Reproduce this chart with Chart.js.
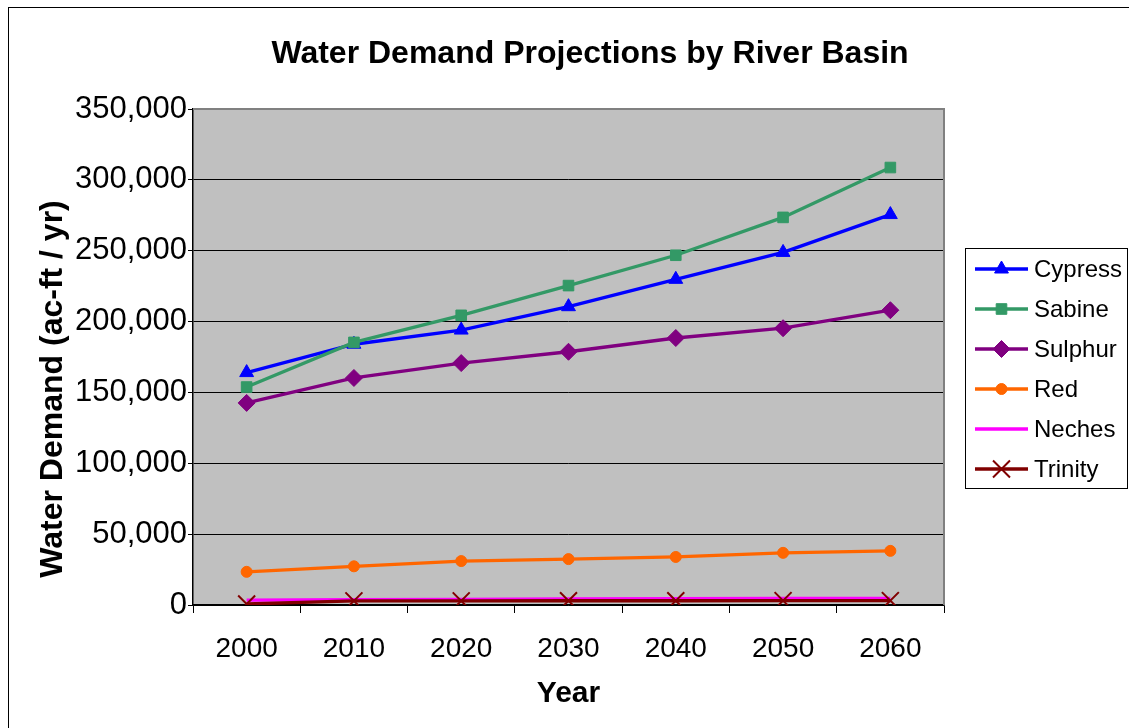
<!DOCTYPE html>
<html>
<head>
<meta charset="utf-8">
<title>Water Demand Projections by River Basin</title>
<script src="https://cdn.jsdelivr.net/npm/chart.js@4/dist/chart.umd.min.js"></script>
<style>
  html, body { margin: 0; padding: 0; background: #fff; }
  canvas { display: block; }
</style>
</head>
<body>
<canvas id="chart" width="1129" height="728"></canvas>
<script>
// Projected water demand (acre-feet per year) by river basin
const years   = ['2000', '2010', '2020', '2030', '2040', '2050', '2060'];
const cypress = [164000, 184000, 194000, 210500, 229800, 248800, 275500];
const sabine  = [153800, 185300, 204400, 225400, 246800, 273500, 308700];
const sulphur = [142600, 160200, 170700, 178700, 188400, 195300, 208000];
const red     = [23400, 27300, 31000, 32400, 33900, 36800, 38200];
const neches  = [3400, 3700, 4000, 4300, 4500, 4600, 4700];
const trinity = [700, 2900, 2900, 3000, 3000, 3100, 3100];

const FONT = '"Liberation Sans", Arial, Helvetica, sans-serif';

const series = [
  { label: 'Cypress', data: cypress, color: '#0000FF', style: 'triangle', radius: 8,   bw: 1 },
  { label: 'Sabine',  data: sabine,  color: '#339966', style: 'rect',     radius: 7.5, bw: 1 },
  { label: 'Sulphur', data: sulphur, color: '#800080', style: 'rectRot',  radius: 8.5, bw: 1 },
  { label: 'Red',     data: red,     color: '#FF6600', style: 'circle',   radius: 5.5, bw: 1 },
  { label: 'Neches',  data: neches,  color: '#FF00FF', style: false,      radius: 0,   bw: 0 },
  { label: 'Trinity', data: trinity, color: '#800000', style: 'crossRot', radius: 12,  bw: 2 }
];

const datasets = series.map((s, i) => ({
  label: s.label,
  data: s.data,
  borderColor: s.color,
  backgroundColor: s.color,
  borderWidth: 3.3,
  tension: 0,
  pointStyle: s.style,
  pointRadius: s.radius,
  pointBorderWidth: s.bw,
  pointBackgroundColor: s.color,
  pointBorderColor: s.color,
  order: series.length - 1 - i   // later series painted on top
}));

// Plot background, outer frame and gray top/right plot border
const frame = {
  id: 'frame',
  beforeDraw(chart) {
    const { ctx, chartArea: a } = chart;
    ctx.save();
    ctx.fillStyle = '#fff';
    ctx.fillRect(0, 0, chart.width, chart.height);
    ctx.strokeStyle = '#000';
    ctx.lineWidth = 1;
    ctx.strokeRect(8.5, 7.5, chart.width + 20, chart.height + 20);
    ctx.fillStyle = '#C0C0C0';
    ctx.fillRect(a.left, a.top, a.right - a.left, a.bottom - a.top);
    ctx.restore();
  },
  beforeDatasetsDraw(chart) {
    const { ctx, chartArea: a } = chart;
    ctx.save();
    ctx.strokeStyle = '#808080';
    ctx.lineWidth = 2;
    ctx.beginPath();
    ctx.moveTo(a.left, a.top);
    ctx.lineTo(a.right, a.top);
    ctx.lineTo(a.right, a.bottom);
    ctx.stroke();
    ctx.restore();
  }
};

function marker(ctx, style, radius, bw, x, y) {
  if (!style || radius <= 0) return;
  Chart.helpers.drawPoint(ctx, { pointStyle: style, radius: radius, rotation: 0, borderWidth: bw }, x, y);
}

// Chart title, vertical axis title and boxed legend
const annotations = {
  id: 'annotations',
  afterDraw(chart) {
    const { ctx } = chart;
    ctx.save();
    ctx.fillStyle = '#000';
    ctx.textAlign = 'center';
    ctx.textBaseline = 'middle';
    ctx.font = 'bold 32px ' + FONT;
    ctx.fillText('Water Demand Projections by River Basin', 590, 54);

    ctx.save();
    ctx.translate(53, 389);
    ctx.rotate(-Math.PI / 2);
    ctx.font = 'bold 32px ' + FONT;
    ctx.fillText('Water Demand (ac-ft / yr)', 0, 0);
    ctx.restore();

    // legend box
    const bx = 965, by = 248, bw = 162, bh = 240;
    ctx.fillStyle = '#fff';
    ctx.fillRect(bx, by, bw, bh);
    ctx.strokeStyle = '#000';
    ctx.lineWidth = 1;
    ctx.strokeRect(bx + 0.5, by + 0.5, bw, bh);
    ctx.font = '24px ' + FONT;
    ctx.textAlign = 'left';
    chart.data.datasets.forEach((ds, i) => {
      const s = series[i];
      const y = 269 + 40 * i;
      ctx.strokeStyle = s.color;
      ctx.fillStyle = s.color;
      ctx.lineWidth = 3.3;
      ctx.beginPath();
      ctx.moveTo(975, y);
      ctx.lineTo(1028, y);
      ctx.stroke();
      ctx.lineWidth = s.bw;
      marker(ctx, s.style, s.radius, s.bw, 1001.5, y);
      ctx.fillStyle = '#000';
      ctx.fillText(ds.label, 1034, y + 1);
    });
    ctx.restore();
  }
};

new Chart(document.getElementById('chart'), {
  type: 'line',
  data: { labels: years, datasets: datasets },
  plugins: [frame, annotations],
  options: {
    responsive: false,
    animation: false,
    events: [],
    layout: { padding: { left: 0, top: 109, right: 185, bottom: 0 } },
    plugins: {
      legend: { display: false },
      title: { display: false },
      tooltip: { enabled: false }
    },
    scales: {
      x: {
        offset: true,
        grid: { offset: true, drawOnChartArea: false, drawTicks: true, tickLength: 8, color: '#000', lineWidth: 1 },
        border: { color: '#000', width: 1.5 },
        ticks: { color: '#000', font: { family: FONT, size: 28 }, padding: 19, maxRotation: 0, autoSkip: false },
        title: { display: true, text: 'Year', color: '#000', font: { family: FONT, size: 30, weight: 'bold' }, padding: { top: 0, bottom: 16 } },
        afterFit(scale) { scale.height = 123; }
      },
      y: {
        min: 0,
        max: 350000,
        ticks: {
          stepSize: 50000,
          color: '#000',
          padding: 1,
          font: { family: FONT, size: 31 },
          callback: (v) => v.toLocaleString('en-US')
        },
        grid: {
          color: (c) => (c.tick && c.tick.value === 350000 ? '#808080' : '#000'),
          tickColor: '#000',
          lineWidth: 1,
          tickLength: 5
        },
        border: { color: '#000', width: 1.5 },
        afterFit(scale) { scale.width = 193; }
      }
    }
  }
});
</script>
</body>
</html>
